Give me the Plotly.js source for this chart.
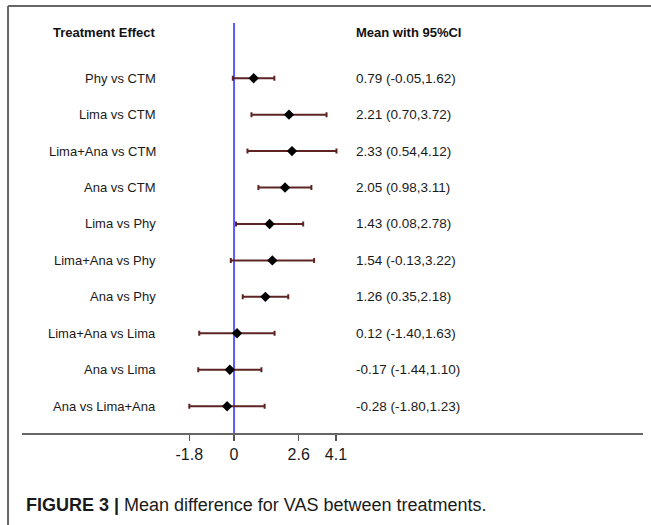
<!DOCTYPE html>
<html>
<head>
<meta charset="utf-8">
<script src="https://cdn.plot.ly/plotly-3.0.1.min.js"></script>
<style>
  html, body { margin: 0; padding: 0; background: #ffffff; }
  #chart { width: 651px; height: 525px; }
</style>
</head>
<body>
<div id="chart"></div>
<script>
// ---- data ----
const comparisons = [
  "Phy vs CTM", "Lima vs CTM", "Lima+Ana vs CTM", "Ana vs CTM",
  "Lima vs Phy", "Lima+Ana vs Phy", "Ana vs Phy",
  "Lima+Ana vs Lima", "Ana vs Lima", "Ana vs Lima+Ana"
];
const means = [0.79, 2.21, 2.33, 2.05, 1.43, 1.54, 1.26, 0.12, -0.17, -0.28];
const lower = [-0.05, 0.70, 0.54, 0.98, 0.08, -0.13, 0.35, -1.40, -1.44, -1.80];
const upper = [1.62, 3.72, 4.12, 3.11, 2.78, 3.22, 2.18, 1.63, 1.10, 1.23];
const tickVals = [-1.8, 0, 2.6, 4.1];
const tickText = ["-1.8", "0", "2.6", "4.1"];
const leftHeader = "Treatment Effect";
const rightHeader = "Mean with 95%CI";
const captionBold = "FIGURE 3 |";
const captionText = " Mean difference for VAS between treatments.";

// ---- layout helpers ----
const FONT = "Liberation Sans, Arial, sans-serif";
const rows = comparisons.map((_, i) => i + 1);
const labelX = -3.06;   // right edge of label column (data units)
const valueX = 4.83;    // left edge of value column (data units)
const fmt = v => v.toFixed(2);

const trace = {
  type: "scatter",
  mode: "markers",
  x: means,
  y: rows,
  marker: { symbol: "diamond", size: 8, color: "#000000" },
  error_x: {
    type: "data",
    symmetric: false,
    array: upper.map((u, i) => u - means[i]),
    arrayminus: lower.map((l, i) => means[i] - l),
    color: "#5e2424",
    thickness: 2,
    width: 2.5
  },
  hoverinfo: "skip",
  showlegend: false
};

const annotations = [];
comparisons.forEach((c, i) => {
  annotations.push({
    xref: "x", yref: "y", x: labelX, y: rows[i],
    text: c, showarrow: false, xanchor: "right", yanchor: "middle",
    font: { family: FONT, size: 13, color: "#1a1a1a" }
  });
  annotations.push({
    xref: "x", yref: "y", x: valueX, y: rows[i],
    text: fmt(means[i]) + " (" + fmt(lower[i]) + "," + fmt(upper[i]) + ")",
    showarrow: false, xanchor: "left", yanchor: "middle",
    font: { family: FONT, size: 13.5, color: "#1a1a1a" }
  });
});
annotations.push({
  xref: "x", yref: "y", x: labelX, y: -0.24,
  text: "<b>" + leftHeader + "</b>", showarrow: false, xanchor: "right", yanchor: "middle",
  font: { family: FONT, size: 13, color: "#111111" }
});
annotations.push({
  xref: "x", yref: "y", x: valueX, y: -0.24,
  text: "<b>" + rightHeader + "</b>", showarrow: false, xanchor: "left", yanchor: "middle",
  font: { family: FONT, size: 13, color: "#111111" }
});
annotations.push({
  xref: "paper", yref: "paper", x: 0.0035, y: -0.1756,
  text: "<b>" + captionBold + "</b>" + captionText,
  showarrow: false, xanchor: "left", yanchor: "middle",
  font: { family: FONT, size: 18, color: "#1a1a1a" }
});

const layout = {
  width: 651,
  height: 525,
  margin: { l: 22, r: 8, t: 23, b: 92, pad: 0 },
  paper_bgcolor: "#ffffff",
  plot_bgcolor: "#ffffff",
  showlegend: false,
  xaxis: {
    range: [-8.53, 16.45],
    tickvals: tickVals,
    ticktext: tickText,
    ticks: "outside",
    ticklen: 6,
    tickwidth: 1.5,
    tickcolor: "#555555",
    showline: true,
    linecolor: "#666666",
    linewidth: 2,
    showgrid: false,
    zeroline: false,
    fixedrange: true,
    tickfont: { family: FONT, size: 16, color: "#1a1a1a" }
  },
  yaxis: {
    range: [10.735, -0.514],
    visible: false,
    showgrid: false,
    zeroline: false,
    fixedrange: true
  },
  shapes: [
    { type: "line", xref: "x", yref: "paper", x0: 0, x1: 0, y0: 0, y1: 1,
      line: { color: "#5a5aff", width: 2 }, layer: "below" },
    { type: "line", xref: "paper", yref: "paper", x0: -0.0225, x1: 1.013, y0: 1.0415, y1: 1.0415,
      line: { color: "#666666", width: 2 } },
    { type: "line", xref: "paper", yref: "paper", x0: -0.0225, x1: -0.0225, y0: 1.0415, y1: -0.2244,
      line: { color: "#666666", width: 2 } }
  ],
  annotations: annotations
};

Plotly.newPlot("chart", [trace], layout, { displayModeBar: false, staticPlot: true });
</script>
</body>
</html>
